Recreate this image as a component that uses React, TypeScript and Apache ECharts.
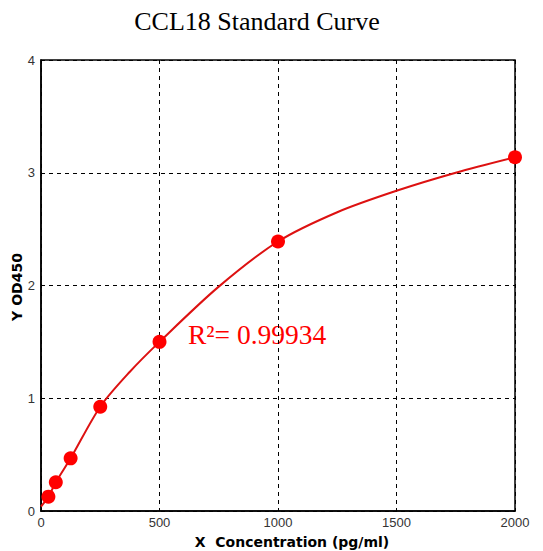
import React, { useEffect, useRef } from "react";
import * as echarts from "echarts";

const concentrations = [31.25, 62.5, 125, 250, 500, 1000, 2000];
const odValues = [0.127, 0.255, 0.467, 0.925, 1.5, 2.39, 3.137];
// fitted curve
const curveX = [0, 31.25, 62.5, 125, 250, 375, 500, 750, 1000, 1250, 1500, 1750, 2000];
const curveY = [0.04, 0.127, 0.255, 0.467, 0.925, 1.235, 1.5, 1.99, 2.39, 2.65, 2.84, 3.0, 3.137];
const xTicks = { min: 0, max: 2000, interval: 500 };
const yTicks = { min: 0, max: 4, interval: 1 };
const titleText = "CCL18 Standard Curve";
const xName = "X  Concentration (pg/ml)";
const yName = "Y OD450";
const r2Text = "R²= 0.99934";

export default function App() {
  const ref = useRef<HTMLDivElement>(null);
  useEffect(() => {
    if (!ref.current) return;
    const chart = echarts.init(ref.current, null, { renderer: "svg" });
    const dashed = { show: true, lineStyle: { color: "#000", type: [4, 4], width: 1 } };
    const labelStyle = { color: "#333", fontSize: 13, fontFamily: "Liberation Sans, Arial, sans-serif" };
    chart.setOption({
      animation: false,
      backgroundColor: "#fff",
      grid: { left: 41, top: 60, right: 28, bottom: 40, show: true, borderColor: "#000", borderWidth: 1.5, backgroundColor: "transparent" },
      xAxis: {
        type: "value",
        min: xTicks.min, max: xTicks.max, interval: xTicks.interval,
        axisLine: { show: true, onZero: false, lineStyle: { color: "#000", width: 1.5 } },
        axisTick: { show: false },
        splitLine: dashed,
        axisLabel: { ...labelStyle, margin: 5, formatter: (v: number) => String(v) },
      },
      yAxis: {
        type: "value",
        min: yTicks.min, max: yTicks.max, interval: yTicks.interval,
        axisLine: { show: true, onZero: false, lineStyle: { color: "#000", width: 1.5 } },
        axisTick: { show: false },
        splitLine: dashed,
        axisLabel: { ...labelStyle, margin: 6 },
      },
      series: [
        {
          type: "line",
          data: curveX.map((c, i) => [c, curveY[i]]),
          smooth: 0.3,
          symbol: "none",
          lineStyle: { color: "#dd1111", width: 2 },
          z: 2,
        },
        {
          type: "scatter",
          data: concentrations.map((c, i) => [c, odValues[i]]),
          symbol: "circle",
          symbolSize: 14,
          itemStyle: { color: "#ff0000", opacity: 1 },
          z: 3,
        },
      ],
      graphic: [
        {
          type: "text", x: 257, y: 8,
          style: { text: titleText, fill: "#000", font: "26px 'Liberation Serif', 'Times New Roman', serif", textAlign: "center", textVerticalAlign: "top" },
        },
        {
          type: "text", x: 292, y: 542,
          style: { text: xName, fill: "#000", font: "bold 14px 'DejaVu Sans', sans-serif", textAlign: "center", textVerticalAlign: "middle" },
        },
        {
          type: "text", x: 17, y: 287, rotation: Math.PI / 2,
          style: { text: yName, fill: "#000", font: "bold 14px 'DejaVu Sans', sans-serif", textAlign: "center", textVerticalAlign: "middle" },
        },
        {
          type: "text", x: 188, y: 334,
          style: { text: r2Text, fill: "#ff0000", font: "27.5px 'Liberation Serif', 'Times New Roman', serif", textAlign: "left", textVerticalAlign: "middle" },
        },
      ],
    });
    return () => chart.dispose();
  }, []);
  return <div ref={ref} style={{ position: "fixed", left: 0, top: 0, width: 543, height: 551 }} />;
}
